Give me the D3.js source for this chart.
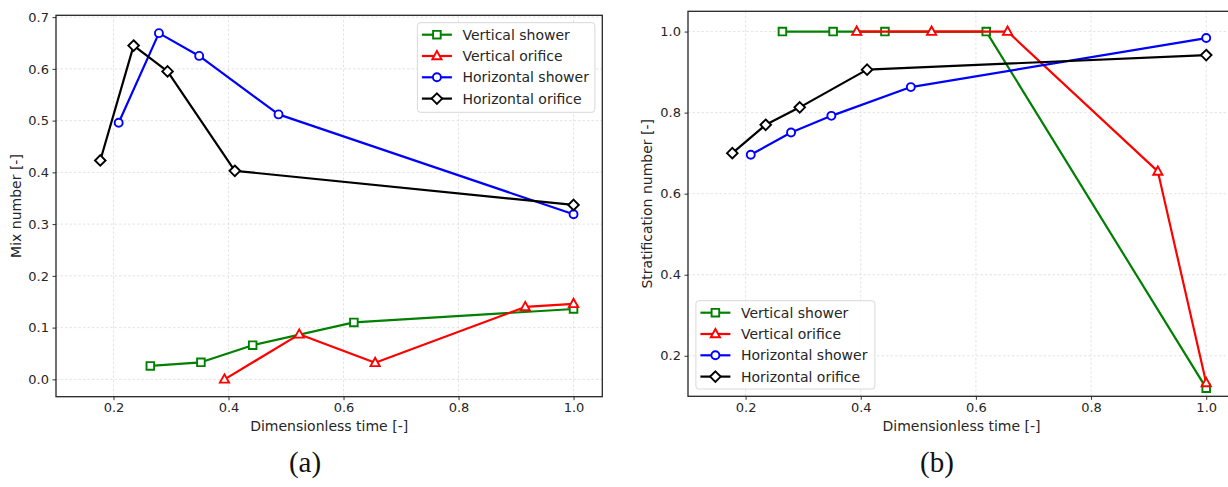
<!DOCTYPE html>
<html>
<head>
<meta charset="utf-8">
<script src="https://cdn.jsdelivr.net/npm/d3@7"></script>
<style>
  html, body { margin: 0; padding: 0; background: #fff; overflow: hidden; }
  svg { display: block; font-family: 'DejaVu Sans', sans-serif; }
</style>
</head>
<body>
<svg id="chart" width="1228" height="487"></svg>
<script>
// dimensionless time of each run (shared by both panels)
const TIME_VS = [0.264, 0.352, 0.442, 0.618, 1.0];
const TIME_VO = [0.393, 0.523, 0.655, 0.916, 1.0];
const TIME_HS = [0.209, 0.279, 0.349, 0.487, 1.0];
const TIME_HO = [0.177, 0.235, 0.294, 0.411, 1.0];

// panel (a): mix number
const MIX_VS = [0.026, 0.033, 0.066, 0.110, 0.136];
const MIX_VO = [0.000, 0.087, 0.032, 0.140, 0.146];
const MIX_HS = [0.496, 0.669, 0.625, 0.512, 0.319];
const MIX_HO = [0.423, 0.645, 0.595, 0.403, 0.337];

// panel (b): stratification number
const STRAT_VS = [1.0, 1.0, 1.0, 1.0, 0.120];
const STRAT_VO = [1.0, 1.0, 1.0, 0.655, 0.133];
const STRAT_HS = [0.696, 0.751, 0.792, 0.863, 0.984];
const STRAT_HO = [0.700, 0.770, 0.813, 0.906, 0.942];

const SERIES_NAMES = ['Vertical shower', 'Vertical orifice', 'Horizontal shower', 'Horizontal orifice'];
const SERIES_COLORS = ['#008000', '#ff0000', '#0000ff', '#000000'];
const SERIES_MARKERS = ['square', 'triangle', 'circle', 'diamond'];

const X_TICKS = [0.2, 0.4, 0.6, 0.8, 1.0];
const MIX_TICKS = [0.0, 0.1, 0.2, 0.3, 0.4, 0.5, 0.6, 0.7];
const STRAT_TICKS = [0.2, 0.4, 0.6, 0.8, 1.0];

const svg = d3.select('#chart');

function markerPath(kind) {
  switch (kind) {
    case 'square': return 'M-3.8,-3.8H3.8V3.8H-3.8Z';
    case 'triangle': return 'M0,-5L4.6,3.3H-4.6Z';
    case 'diamond': return 'M0,-5.3L5.3,0L0,5.3L-5.3,0Z';
    default: return d3.symbol(d3.symbolCircle, Math.PI * 4 * 4)();
  }
}

function drawPanel(p) {
  const x = d3.scaleLinear().domain([0.1, 1.05]).range([p.left, p.right]);
  const y = d3.scaleLinear().domain(p.yDomain).range([p.bottom, p.top]);
  const g = svg.append('g');

  // grid
  const grid = g.append('g')
    .attr('stroke', '#d9d9d9').attr('stroke-width', 0.7)
    .attr('stroke-dasharray', '2.5,2');
  grid.selectAll('.gx').data(X_TICKS).join('line')
    .attr('x1', d => x(d)).attr('x2', d => x(d))
    .attr('y1', p.top).attr('y2', p.bottom);
  grid.selectAll('.gy').data(p.yTicks).join('line')
    .attr('x1', p.left).attr('x2', p.right)
    .attr('y1', d => y(d)).attr('y2', d => y(d));

  // axes
  const xa = g.append('g')
    .attr('transform', `translate(0,${p.bottom})`)
    .call(d3.axisBottom(x).tickValues(X_TICKS).tickFormat(d3.format('.1f')).tickSize(3.5).tickPadding(3));
  const ya = g.append('g')
    .attr('transform', `translate(${p.left},0)`)
    .call(d3.axisLeft(y).tickValues(p.yTicks).tickFormat(d3.format('.1f')).tickSize(3.5).tickPadding(3.5));
  [xa, ya].forEach(ax => {
    ax.select('.domain').remove();
    ax.selectAll('line').attr('stroke', '#333');
    ax.selectAll('text').attr('font-size', 13).attr('fill', '#262626')
      .attr('font-family', 'DejaVu Sans');
  });

  // series
  const clipId = 'clip' + p.id;
  svg.append('clipPath').attr('id', clipId).append('rect')
    .attr('x', p.left).attr('y', p.top)
    .attr('width', p.right - p.left).attr('height', p.bottom - p.top);
  const plot = g.append('g').attr('clip-path', `url(#${clipId})`);
  const line = d3.line().x(d => x(d[0])).y(d => y(d[1]));
  p.series.forEach((s, i) => {
    const pts = s.t.map((t, k) => [t, s.v[k]]);
    plot.append('path')
      .attr('d', line(pts))
      .attr('fill', 'none')
      .attr('stroke', SERIES_COLORS[i])
      .attr('stroke-width', 2.2)
      .attr('stroke-linejoin', 'round');
    plot.selectAll(null).data(pts).join('path')
      .attr('transform', d => `translate(${x(d[0])},${y(d[1])})`)
      .attr('d', markerPath(SERIES_MARKERS[i]))
      .attr('fill', '#fff')
      .attr('stroke', SERIES_COLORS[i])
      .attr('stroke-width', 1.9);
  });

  // frame
  g.append('rect')
    .attr('x', p.left).attr('y', p.top)
    .attr('width', p.right - p.left).attr('height', p.bottom - p.top)
    .attr('fill', 'none').attr('stroke', '#262626').attr('stroke-width', 1.3);

  // axis labels
  g.append('text')
    .attr('x', (p.left + p.right) / 2).attr('y', 431)
    .attr('text-anchor', 'middle').attr('font-size', 14).attr('fill', '#262626')
    .text('Dimensionless time [-]');
  g.append('text')
    .attr('transform', `translate(${p.yLabelX},${(p.top + p.bottom) / 2}) rotate(-90)`)
    .attr('text-anchor', 'middle').attr('font-size', 14).attr('fill', '#262626')
    .text(p.yLabel);

  // legend
  const L = p.legend;
  const leg = g.append('g').attr('transform', `translate(${L.x},${L.y})`);
  leg.append('rect')
    .attr('width', L.w).attr('height', L.h).attr('rx', 3)
    .attr('fill', '#fff').attr('fill-opacity', 0.85)
    .attr('stroke', '#d8d8d8').attr('stroke-width', 1);
  SERIES_NAMES.forEach((name, i) => {
    const cy = 12 + i * 21.3;
    leg.append('line')
      .attr('x1', 4.5).attr('x2', 34.5).attr('y1', cy).attr('y2', cy)
      .attr('stroke', SERIES_COLORS[i]).attr('stroke-width', 2.2);
    leg.append('path')
      .attr('transform', `translate(19.5,${cy})`)
      .attr('d', markerPath(SERIES_MARKERS[i]))
      .attr('fill', '#fff').attr('stroke', SERIES_COLORS[i]).attr('stroke-width', 1.9);
    leg.append('text')
      .attr('x', 45).attr('y', cy + 5)
      .attr('font-size', 14).attr('fill', '#262626')
      .text(name);
  });

  // caption
  svg.append('text')
    .attr('x', p.captionX).attr('y', 472)
    .attr('text-anchor', 'middle')
    .attr('font-family', "'Liberation Serif', serif").attr('font-size', 29).attr('fill', '#111')
    .text(p.caption);
}

drawPanel({
  id: 'a', left: 56, right: 602.3, top: 15.3, bottom: 396.7,
  yDomain: [-0.0335, 0.7035], yTicks: MIX_TICKS,
  yLabel: 'Mix number [-]', yLabelX: 21,
  series: [
    { t: TIME_VS, v: MIX_VS }, { t: TIME_VO, v: MIX_VO },
    { t: TIME_HS, v: MIX_HS }, { t: TIME_HO, v: MIX_HO },
  ],
  legend: { x: 417.4, y: 22.7, w: 177.5, h: 89.6 },
  caption: '(a)', captionX: 305,
});

drawPanel({
  id: 'b', left: 688, right: 1235, top: 11.3, bottom: 396.3,
  yDomain: [0.1, 1.05], yTicks: STRAT_TICKS,
  yLabel: 'Stratification number [-]', yLabelX: 652,
  series: [
    { t: TIME_VS, v: STRAT_VS }, { t: TIME_VO, v: STRAT_VO },
    { t: TIME_HS, v: STRAT_HS }, { t: TIME_HO, v: STRAT_HO },
  ],
  legend: { x: 695.9, y: 300.7, w: 179, h: 88.3 },
  caption: '(b)', captionX: 937,
});
</script>
</body>
</html>
